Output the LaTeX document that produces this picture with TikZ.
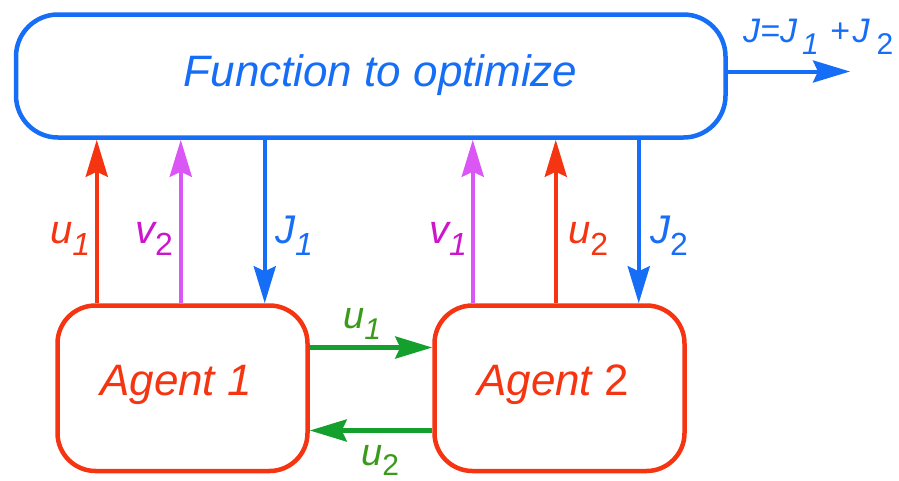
\documentclass[tikz,border=0pt]{standalone}
\usepackage{fontspec}
\setmainfont{Liberation Sans}
\usetikzlibrary{arrows.meta}

\definecolor{fnblue}{RGB}{22,110,247}
\definecolor{agred}{RGB}{245,52,18}
\definecolor{vmag}{RGB}{218,86,245}
\definecolor{vtext}{RGB}{204,22,204}
\definecolor{lnkgreen}{RGB}{20,160,44}
\definecolor{lnktext}{RGB}{58,154,26}

% font size shortcut
\newcommand\sz[1]{\fontsize{#1}{#1}\selectfont}
% symbol with a lowered index: letter, index, letter size, index size, drop
\newcommand\symsub[5]{{\sz{#3}#1\raisebox{-#5pt}{\sz{#4}#2}}}

\begin{document}
\begin{tikzpicture}[x=1pt,y=-1pt,
  box/.style={draw, line width=4.5pt, inner sep=0pt},
  flow/.style={line width=4pt, -{Stealth[length=37pt,width=22pt,inset=5pt]}},
  lab/.style={inner sep=0pt, anchor=base west, font=\itshape}]
\useasboundingbox (0,0) rectangle (899,480);

% blocks
\node[box, draw=fnblue, rounded corners=42pt,
      minimum width=709.5pt, minimum height=123pt] (fn) at (370.75,76) {};
\node[box, draw=agred, rounded corners=38pt,
      minimum width=250pt, minimum height=165.5pt] (a1) at (182.5,388.25) {};
\node[box, draw=agred, rounded corners=38pt,
      minimum width=250pt, minimum height=165.5pt] (a2) at (559.5,388.25) {};

% block titles
\node[lab, fnblue, font=\sz{44}\itshape] (fntext) at (183.5,86) {Function to optimize};
\node[lab, agred, font=\sz{44}\itshape] (a1text) at (100,395) {Agent 1};
\node[lab, agred, font=\sz{44}\itshape] (a2text) at (477,395) {Agent {\upshape 2}};

% attachment points on the agents' top sides
\coordinate (pu1) at ([xshift=41.5pt]a1.north west);
\coordinate (pv2) at ([xshift=125.5pt]a1.north west);
\coordinate (pj1) at ([xshift=209.5pt]a1.north west);
\coordinate (pv1) at ([xshift=40.5pt]a2.north west);
\coordinate (pu2) at ([xshift=123.5pt]a2.north west);
\coordinate (pj2) at ([xshift=206.5pt]a2.north west);

% agents <-> function
\draw[flow, agred] (pu1) -- (pu1 |- fn.south);
\draw[flow, vmag]  (pv2) -- (pv2 |- fn.south);
\draw[flow, fnblue] (pj1 |- fn.south) -- (pj1);
\draw[flow, vmag]  (pv1) -- (pv1 |- fn.south);
\draw[flow, agred] (pu2) -- (pu2 |- fn.south);
\draw[flow, fnblue] (pj2 |- fn.south) -- (pj2);

% exchange between the agents
\coordinate (g1) at (0,347.5);
\coordinate (g2) at (0,430.5);
\draw[flow, lnkgreen, line width=4.5pt] (a1.east |- g1) -- (a2.west |- g1);
\draw[flow, lnkgreen, line width=4.5pt] (a2.west |- g2) -- (a1.east |- g2);

% total cost output
\coordinate (jout) at (850,71.5);
\draw[flow, fnblue] (fn.east |- jout) -- (jout);

% signal labels
\node[lab, agred]  (lu1) at (50,243)  {\symsub{u}{1}{40}{32}{12}};
\node[lab, vtext]  (lv2) at (135,243) {\symsub{v}{\upshape 2}{40}{32}{12}};
\node[lab, fnblue] (lj1) at (275,243) {\symsub{J}{1}{40}{32}{12}};
\node[lab, vtext]  (lv1) at (429,243) {\symsub{v}{1}{40}{32}{12}};
\node[lab, agred]  (lu2) at (568,243) {\symsub{u}{\upshape 2}{40}{32}{12}};
\node[lab, fnblue] (lj2) at (650,243) {\symsub{J}{\upshape 2}{40}{32}{12}};

\node[lab, lnktext] (gu1) at (343,328) {\symsub{u}{1}{38}{30}{11}};
\node[lab, lnktext] (gu2) at (361,465) {\symsub{u}{\upshape 2}{38}{30}{10}};

\node[lab, fnblue] (jsum) at (743,42)
  {\sz{34}J=J\kern5pt\raisebox{-12pt}{\sz{30}1}\kern11pt+\kern3pt J\kern7pt\raisebox{-12pt}{\sz{30}\upshape 2}};
\end{tikzpicture}
\end{document}
